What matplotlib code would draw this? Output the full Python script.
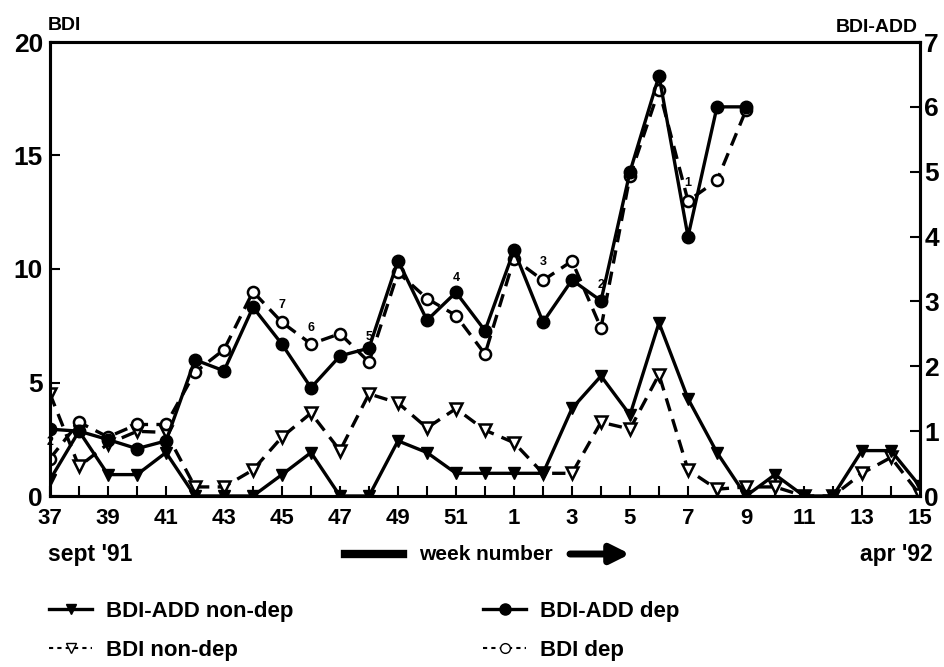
import numpy as np
import matplotlib
matplotlib.use('Agg')
import matplotlib.pyplot as plt
from matplotlib.lines import Line2D

# week numbers, sept '91 .. apr '92
weeks = list(range(37, 53)) + list(range(1, 16))
nan = np.nan

# right axis (BDI-ADD, 0-7)
add_nondep = [0.25, 1.0, 0.33, 0.33, 0.67, 0, 0, 0, 0.33, 0.67, 0, 0, 0.85, 0.67, 0.35, 0.35,
              0.35, 0.35, 1.35, 1.85, 1.25, 2.67, 1.5, 0.67, 0, 0.33, 0, 0, 0.7, 0.7, 0.15]
add_dep = [1.03, 1.0, 0.87, 0.73, 0.85, 2.1, 1.93, 2.91, 2.34, 1.67, 2.16, 2.28, 3.63, 2.71, 3.14, 2.55,
           3.79, 2.68, 3.33, 3.01, 5.0, 6.48, 4.0, 6.0, 6.0, nan, nan, nan, nan, nan, nan]

# left axis (BDI, 0-20)
bdi_nondep = [4.5, 1.3, 2.3, 2.85, 2.8, 0.4, 0.4, 1.15, 2.6, 3.65, 2.0, 4.5, 4.1, 3.0, 3.85, 2.9,
              2.35, 1.0, 1.0, 3.25, 2.95, 5.35, 1.15, 0.3, 0.4, 0.4, 0, 0, 1.0, 1.7, 0.05]
bdi_dep = [1.65, 3.25, 2.6, 3.15, 3.15, 5.45, 6.45, 9.0, 7.65, 6.7, 7.15, 5.9, 9.85, 8.7, 7.95, 6.25,
           10.45, 9.5, 10.35, 7.4, 14.1, 17.9, 13.0, 13.9, 17.0, nan, nan, nan, nan, nan, nan]

# small counts written next to points (left-axis units)
note_x = [0, 8, 9, 11, 14, 17, 19, 22]
note_y = [2.4, 8.4, 7.4, 7.0, 9.6, 10.3, 9.3, 13.8]
note_txt = ['2', '7', '6', '5', '4', '3', '2', '1']

plt.rcParams['font.family'] = ['Liberation Sans', 'DejaVu Sans']
plt.rcParams['font.weight'] = 'bold'

fig = plt.figure(figsize=(9.44, 6.67), dpi=100)
ax = fig.add_axes([50/944, 1-496/667, 870/944, 454/667])
ax2 = ax.twinx()

x = np.arange(len(weeks))
lw = 2.4
dash = (0, (4, 2.5))

ax.plot(x, bdi_nondep, color='k', lw=lw, linestyle=dash, marker='v', ms=8,
        mfc='white', mec='k', mew=1.8, zorder=3)
ax.plot(x, bdi_dep, color='k', lw=lw, linestyle=dash, marker='o', ms=8,
        mfc='white', mec='k', mew=1.8, zorder=3)
ax2.plot(x, add_nondep, color='k', lw=lw, marker='v', ms=8, mfc='k', mec='k', zorder=3)
ax2.plot(x, add_dep, color='k', lw=lw, marker='o', ms=9, mfc='k', mec='k', zorder=3)

for nx, ny, t in zip(note_x, note_y, note_txt):
    ax.text(nx, ny, t, fontsize=9, fontweight='bold', ha='center', va='center')

ax.set_xlim(0, 30)
ax.set_ylim(0, 20)
ax2.set_ylim(0, 7)
ax.set_xticks(x)
ax.set_xticklabels([str(w) if i % 2 == 0 else '' for i, w in enumerate(weeks)])
ax.set_yticks([0, 5, 10, 15, 20])
ax2.set_yticks(range(8))

for a in (ax, ax2):
    for s in a.spines.values():
        s.set_linewidth(2.2)
    a.tick_params(direction='in', length=7, width=1.5, labelsize=19)
ax.tick_params(axis='x', pad=9, labelsize=16)
ax.tick_params(axis='y', pad=5)
ax2.tick_params(axis='y', pad=3)

fig.text(48/944, 1-25/667, 'BDI', fontsize=14, fontweight='bold', ha='left', va='center')
fig.text(918/944, 1-27/667, 'BDI-ADD', fontsize=14, fontweight='bold', ha='right', va='center')
fig.text(48/944, 1-555/667, "sept '91", fontsize=16.5, fontweight='bold', ha='left', va='center')
fig.text(933/944, 1-555/667, "apr '92", fontsize=16.5, fontweight='bold', ha='right', va='center')
fig.text(486/944, 1-554/667, 'week number', fontsize=15, fontweight='bold', ha='center', va='center')

# arrow around "week number"
fig.add_artist(Line2D([345/944, 403/944], [1-554/667, 1-554/667], lw=6, color='k',
                      transform=fig.transFigure))
ax.annotate('', xy=(630/944, 1-554/667), xytext=(570/944, 1-554/667),
            xycoords='figure fraction', textcoords='figure fraction',
            arrowprops=dict(arrowstyle='-|>', lw=5, color='k', mutation_scale=28,
                            shrinkA=0, shrinkB=0))

h1 = Line2D([], [], color='k', lw=lw, marker='v', ms=7, mfc='k')
h2 = Line2D([], [], color='k', lw=1.5, linestyle=(0, (2, 2)), marker='v', ms=7, mfc='white')
h3 = Line2D([], [], color='k', lw=lw, marker='o', ms=8, mfc='k')
h4 = Line2D([], [], color='k', lw=1.5, linestyle=(0, (2, 2)), marker='o', ms=7, mfc='white')

leg_kw = dict(frameon=False, fontsize=16, handlelength=1.95, handletextpad=0.6,
              labelspacing=0.8, borderaxespad=0, borderpad=0)
l1 = fig.legend([h1, h2], ['BDI-ADD non-dep', 'BDI non-dep'], loc='upper left',
                bbox_to_anchor=(49/944, 1-601/667), **leg_kw)
l2 = fig.legend([h3, h4], ['BDI-ADD dep', 'BDI dep'], loc='upper left',
                bbox_to_anchor=(483/944, 1-601/667), **leg_kw)

fig.savefig('out.png', dpi=100)
